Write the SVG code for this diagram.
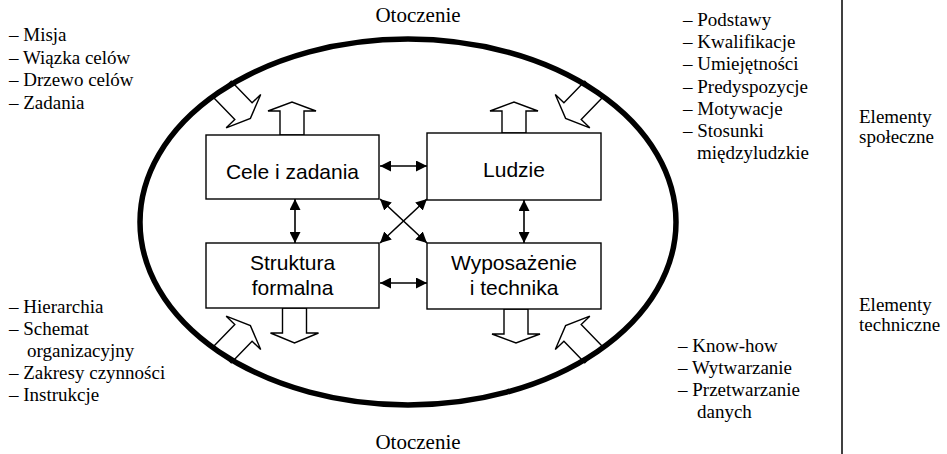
<svg xmlns="http://www.w3.org/2000/svg" width="947" height="454" viewBox="0 0 947 454">
<style>
.box{fill:#fff;stroke:#000;stroke-width:1.4}
.bt{font-family:"Liberation Sans",Arial,sans-serif;font-size:21px;text-anchor:middle;fill:#000}
.lt{font-family:"Liberation Serif","Times New Roman",serif;font-size:19px;fill:#000}
.ot{font-family:"Liberation Serif","Times New Roman",serif;font-size:21px;text-anchor:middle;fill:#000}
.ha{fill:#fff;stroke:#000;stroke-width:1.4;stroke-linejoin:miter}
.con{stroke:#000;stroke-width:1.6;fill:none;marker-start:url(#ah);marker-end:url(#ah)}
</style>
<defs>
<marker id="ah" viewBox="0 0 10 10" refX="10" refY="5" markerWidth="11" markerHeight="11" markerUnits="userSpaceOnUse" orient="auto-start-reverse">
<path d="M0,0 L10,5 L0,10 z" fill="#000"/>
</marker>
<polygon id="darr" points="-2,-12 28,-12 28,-24 38,0 28,24 28,12 -2,12"/>
</defs>
<rect width="947" height="454" fill="#fff"/>
<g id="env-arrows">
<use href="#darr" class="ha" transform="translate(224,91) rotate(46)"/>
<use href="#darr" class="ha" transform="translate(592,91) rotate(134)"/>
<use href="#darr" class="ha" transform="translate(224,353) rotate(-46)"/>
<use href="#darr" class="ha" transform="translate(592,353) rotate(-134)"/>
</g>
<g id="environment">
<ellipse cx="408" cy="222" rx="268" ry="183" fill="none" stroke="#000" stroke-width="5.5"/>
<text class="ot" x="418" y="22">Otoczenie</text>
<text class="ot" x="418" y="449">Otoczenie</text>
</g>
<g id="out-arrows">
<polygon class="ha" points="280,135 280,111 268,111 292,102 316,111 304,111 304,135"/>
<polygon class="ha" points="502,133 502,111 490,111 514,102 538,111 526,111 526,133"/>
<polygon class="ha" points="282.5,308 282.5,333 270.5,333 294.5,343 318.5,333 306.5,333 306.5,308"/>
<polygon class="ha" points="504,309 504,334 492,334 516,343 540,334 528,334 528,309"/>
</g>
<g id="connectors">
<line class="con" x1="380" y1="166" x2="427" y2="166"/>
<line class="con" x1="380" y1="283" x2="427" y2="283"/>
<line class="con" x1="295" y1="199" x2="295" y2="243"/>
<line class="con" x1="524" y1="200" x2="524" y2="243"/>
<line class="con" x1="380" y1="199" x2="427" y2="243"/>
<line class="con" x1="427" y1="199" x2="380" y2="243"/>
</g>
<g id="cele">
<rect class="box" x="206" y="135" width="173" height="64"/>
<text class="bt" x="292.5" y="179">Cele i zadania</text>
</g>
<g id="ludzie">
<rect class="box" x="427" y="133" width="174" height="67"/>
<text class="bt" x="514" y="177">Ludzie</text>
</g>
<g id="struktura">
<rect class="box" x="206" y="243" width="173" height="65"/>
<text class="bt" x="292.5" y="270">Struktura</text>
<text class="bt" x="292.5" y="295">formalna</text>
</g>
<g id="wyposazenie">
<rect class="box" x="427" y="243" width="174" height="66"/>
<text class="bt" x="514" y="270">Wyposażenie</text>
<text class="bt" x="514" y="295">i technika</text>
</g>
<g id="lists">
<text class="lt" x="9" y="41">– Misja</text>
<text class="lt" x="9" y="64">– Wiązka celów</text>
<text class="lt" x="9" y="86">– Drzewo celów</text>
<text class="lt" x="9" y="109">– Zadania</text>
<text class="lt" x="683" y="26">– Podstawy</text>
<text class="lt" x="683" y="48">– Kwalifikacje</text>
<text class="lt" x="683" y="70">– Umiejętności</text>
<text class="lt" x="683" y="93">– Predyspozycje</text>
<text class="lt" x="683" y="115">– Motywacje</text>
<text class="lt" x="683" y="137">– Stosunki</text>
<text class="lt" x="697" y="159">międzyludzkie</text>
<text class="lt" x="9" y="313">– Hierarchia</text>
<text class="lt" x="9" y="335">– Schemat</text>
<text class="lt" x="27" y="357">organizacyjny</text>
<text class="lt" x="9" y="379">– Zakresy czynności</text>
<text class="lt" x="9" y="401">– Instrukcje</text>
<text class="lt" x="678" y="352">– Know-how</text>
<text class="lt" x="678" y="374">– Wytwarzanie</text>
<text class="lt" x="678" y="396">– Przetwarzanie</text>
<text class="lt" x="697" y="418">danych</text>
</g>
<g id="categories">
<line x1="842" y1="0" x2="842" y2="454" stroke="#000" stroke-width="1.5"/>
<text class="lt" x="859" y="123">Elementy</text>
<text class="lt" x="859" y="143">społeczne</text>
<text class="lt" x="859" y="311">Elementy</text>
<text class="lt" x="859" y="331">techniczne</text>
</g>
</svg>
